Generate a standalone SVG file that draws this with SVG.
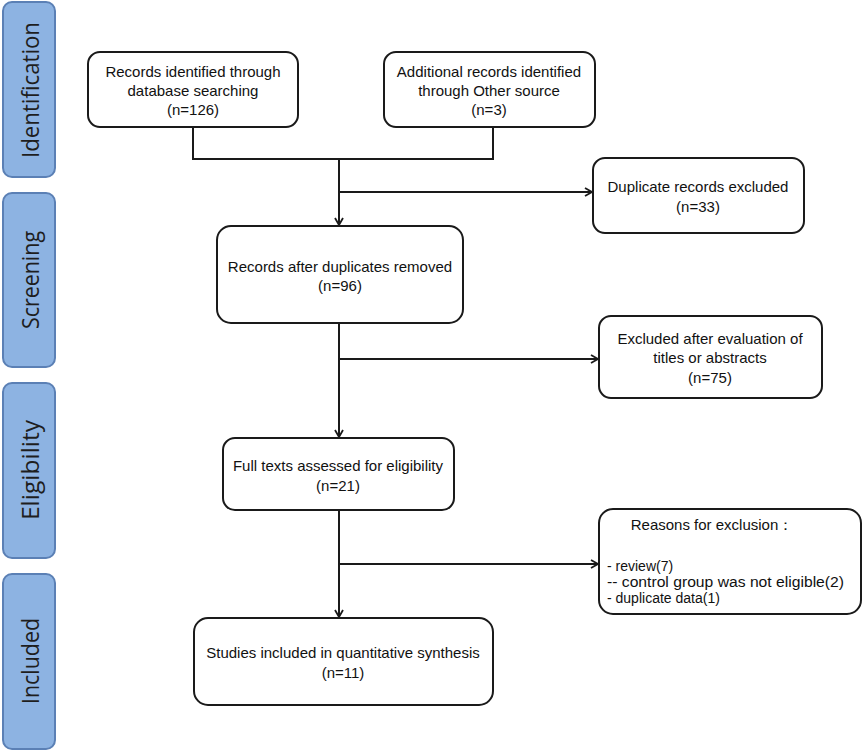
<svg xmlns="http://www.w3.org/2000/svg" width="865" height="752" viewBox="0 0 865 752">
<defs>
<marker id="arr" markerUnits="userSpaceOnUse" markerWidth="10" markerHeight="10" refX="8" refY="5" orient="auto">
<path d="M1,1 L8,5 L1,9" fill="none" stroke="#1a1a1a" stroke-width="1.8"/>
</marker>
<style>
.side{fill:#8db3e2;stroke:#5b80b5;stroke-width:2}
.stxt{font-family:"Open Sans","Liberation Sans",sans-serif;font-size:24px;fill:#1e1e1e;text-anchor:middle}
.box{fill:#fff;stroke:#1a1a1a;stroke-width:2}
.t{font-family:"Liberation Sans",Arial,sans-serif;font-size:15px;fill:#111;text-anchor:middle}
.tl{font-family:"Liberation Sans",Arial,sans-serif;font-size:14px;fill:#111;text-anchor:start}
.c{fill:none;stroke:#1a1a1a;stroke-width:2}
</style>
</defs>
<rect width="865" height="752" fill="#fff"/>
<g id="stage-identification"><rect class="side" x="3" y="2" width="52" height="175" rx="9"/><text class="stxt" transform="translate(39,90) rotate(-90)" textLength="136" lengthAdjust="spacingAndGlyphs">Identification</text></g>
<g id="stage-screening"><rect class="side" x="3" y="193" width="52" height="174" rx="9"/><text class="stxt" transform="translate(39,280) rotate(-90)" textLength="98" lengthAdjust="spacingAndGlyphs">Screening</text></g>
<g id="stage-eligibility"><rect class="side" x="3" y="383" width="52" height="175" rx="9"/><text class="stxt" transform="translate(39,470) rotate(-90)" textLength="100" lengthAdjust="spacingAndGlyphs">Eligibility</text></g>
<g id="stage-included"><rect class="side" x="3" y="574" width="52" height="175" rx="9"/><text class="stxt" transform="translate(39,661) rotate(-90)" textLength="86" lengthAdjust="spacingAndGlyphs">Included</text></g>

<g id="connectors">
<path class="c" d="M193,127 V159 H493 V127"/>
<path class="c" d="M339,159 V225" marker-end="url(#arr)"/>
<path class="c" d="M339,192 H592" marker-end="url(#arr)"/>
<path class="c" d="M339,323 V437" marker-end="url(#arr)"/>
<path class="c" d="M339,359 H598" marker-end="url(#arr)"/>
<path class="c" d="M339,510 V617" marker-end="url(#arr)"/>
<path class="c" d="M339,564 H598" marker-end="url(#arr)"/>
</g>

<g id="db-records"><rect class="box" x="88" y="52" width="210" height="75" rx="12"/>
<text class="t" x="193" y="77">Records identified through</text>
<text class="t" x="193" y="96">database searching</text>
<text class="t" x="193" y="115">(n=126)</text></g>

<g id="other-records"><rect class="box" x="384" y="52" width="211" height="75" rx="12"/>
<text class="t" x="489" y="77">Additional records identified</text>
<text class="t" x="489" y="96">through Other source</text>
<text class="t" x="489" y="115">(n=3)</text></g>

<g id="duplicates-excluded"><rect class="box" x="593" y="158" width="211" height="75" rx="12"/>
<text class="t" x="698" y="192">Duplicate records excluded</text>
<text class="t" x="698" y="212">(n=33)</text></g>

<g id="after-duplicates"><rect class="box" x="217" y="226" width="246" height="97" rx="14"/>
<text class="t" x="340" y="272">Records after duplicates removed</text>
<text class="t" x="340" y="291">(n=96)</text></g>

<g id="excluded-titles"><rect class="box" x="599" y="316" width="223" height="82" rx="12"/>
<text class="t" x="710" y="344">Excluded after evaluation of</text>
<text class="t" x="710" y="363">titles or abstracts</text>
<text class="t" x="710" y="383">(n=75)</text></g>

<g id="full-texts"><rect class="box" x="223" y="438" width="231" height="72" rx="12"/>
<text class="t" x="338" y="471">Full texts assessed for eligibility</text>
<text class="t" x="338" y="491">(n=21)</text></g>

<g id="reasons-exclusion"><rect class="box" x="599" y="509" width="262" height="105" rx="14"/>
<text class="t" x="712" y="530" style="font-size:15px">Reasons for exclusion：</text>
<text class="tl" x="607" y="571">- review(7)</text>
<text class="tl" x="607" y="587" textLength="237" lengthAdjust="spacingAndGlyphs">-- control group was not eligible(2)</text>
<text class="tl" x="607" y="603">- duplicate data(1)</text></g>

<g id="included-studies"><rect class="box" x="194" y="618" width="299" height="87" rx="14"/>
<text class="t" x="343" y="658">Studies included in quantitative synthesis</text>
<text class="t" x="343" y="678">(n=11)</text></g>
</svg>
